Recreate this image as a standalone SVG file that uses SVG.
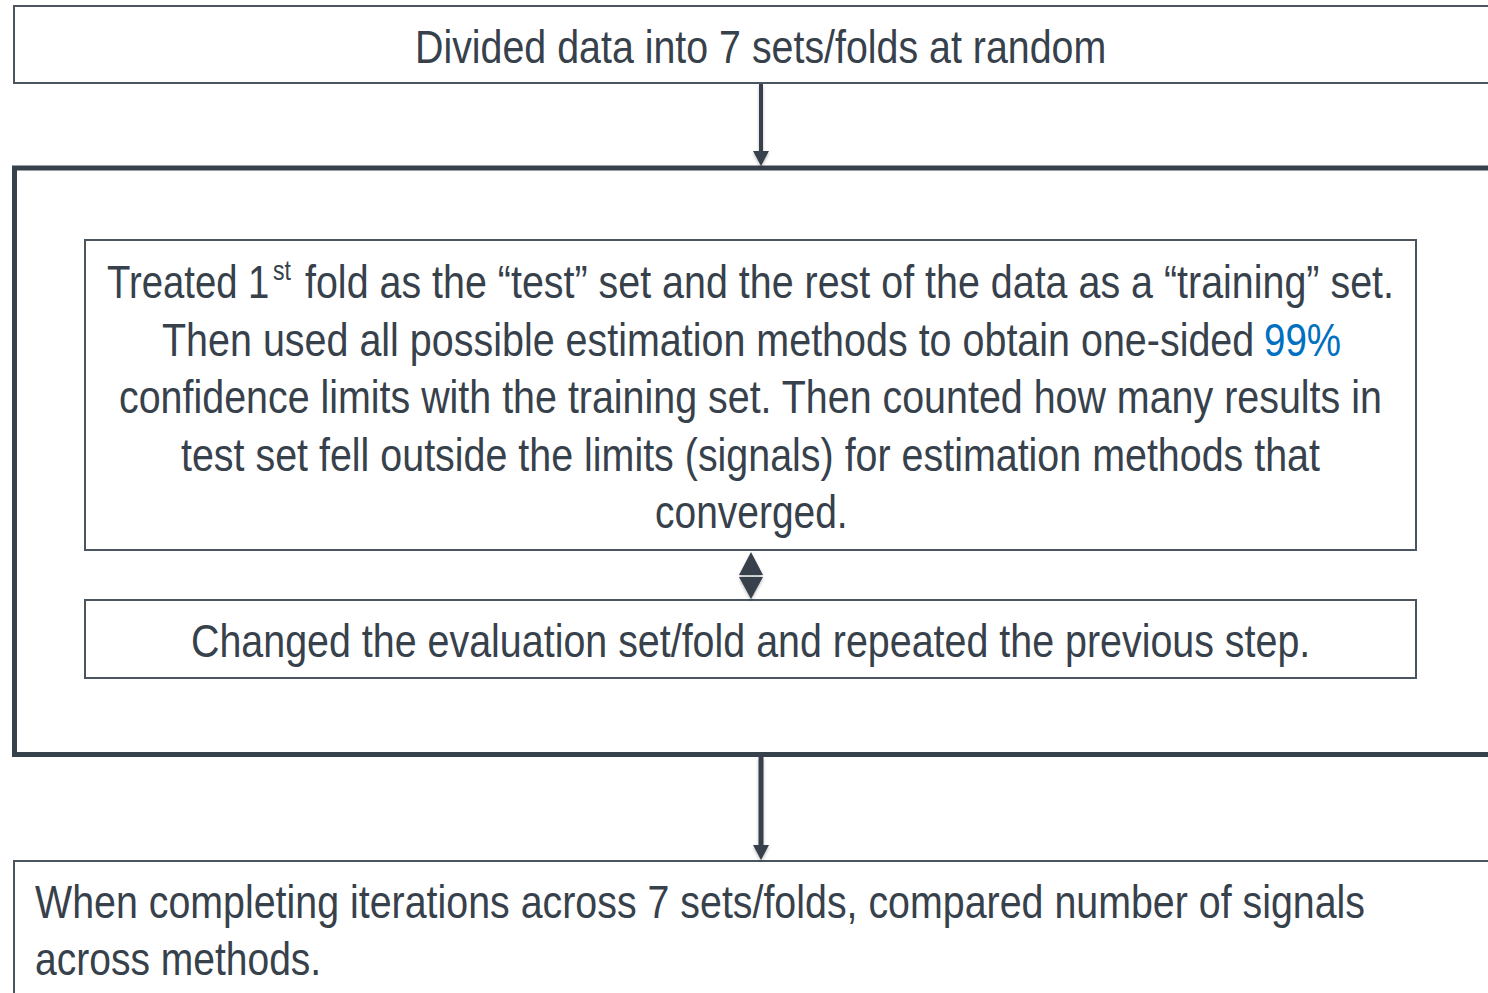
<svg xmlns="http://www.w3.org/2000/svg" width="1488" height="993" viewBox="0 0 1488 993">
  <style>
    .box { fill: #ffffff; stroke: #4a5560; stroke-width: 2; }
    .frame { fill: none; stroke: #37414b; stroke-width: 5; }
    .txt { font-family: "Liberation Sans", Arial, sans-serif; font-size: 47px; fill: #37414b; }
    .sup { font-size: 28px; }
    .hl { fill: #0070c0; }
    .conn { stroke: #37414b; fill: none; }
    .head { fill: #37414b; }
  </style>
  <defs>
    <filter id="soft" x="-50%" y="-50%" width="200%" height="200%">
      <feDropShadow dx="0" dy="2" stdDeviation="1.5" flood-color="#000" flood-opacity="0.25"/>
    </filter>
  </defs>

  <rect width="1488" height="993" fill="#ffffff"/>

  <!-- first step -->
  <g id="step-divide">
    <rect class="box" x="14" y="6" width="1500" height="77"/>
    <text class="txt" transform="translate(415,63) scale(0.82,1)" textLength="843" lengthAdjust="spacingAndGlyphs">Divided data into 7 sets/folds at random</text>
  </g>

  <!-- loop container -->
  <g id="loop-frame">
    <rect class="frame" x="14.5" y="168" width="1500" height="586.5"/>
  </g>

  <!-- labels are set in a condensed face: horizontal scale 0.82 -->
  <g id="step-test">
    <rect class="box" x="85" y="240" width="1331" height="310"/>
    <text class="txt" transform="translate(107,298) scale(0.82,1)" textLength="198" lengthAdjust="spacingAndGlyphs">Treated 1</text>
    <text class="txt sup" transform="translate(273,280) scale(0.82,1)">st</text>
    <text class="txt" transform="translate(305,298) scale(0.82,1)" textLength="1328" lengthAdjust="spacingAndGlyphs">fold as the “test” set and the rest of the data as a “training” set.</text>
    <text class="txt" transform="translate(162,356) scale(0.82,1)" textLength="1332" lengthAdjust="spacingAndGlyphs">Then used all possible estimation methods to obtain one-sided</text>
    <text class="txt hl" transform="translate(1264,356) scale(0.82,1)" textLength="94" lengthAdjust="spacingAndGlyphs">99%</text>
    <text class="txt" transform="translate(119,413) scale(0.82,1)" textLength="1540" lengthAdjust="spacingAndGlyphs">confidence limits with the training set. Then counted how many results in</text>
    <text class="txt" transform="translate(181,471) scale(0.82,1)" textLength="1389" lengthAdjust="spacingAndGlyphs">test set fell outside the limits (signals) for estimation methods that</text>
    <text class="txt" transform="translate(655,528) scale(0.82,1)" textLength="235" lengthAdjust="spacingAndGlyphs">converged.</text>
  </g>

  <g id="step-repeat">
    <rect class="box" x="85" y="600" width="1331" height="78"/>
    <text class="txt" transform="translate(191,657) scale(0.82,1)" textLength="1365" lengthAdjust="spacingAndGlyphs">Changed the evaluation set/fold and repeated the previous step.</text>
  </g>

  <g id="step-compare">
    <rect class="box" x="14" y="861" width="1500" height="150"/>
    <text class="txt" transform="translate(35,918) scale(0.82,1)" textLength="1622" lengthAdjust="spacingAndGlyphs">When completing iterations across 7 sets/folds, compared number of signals</text>
    <text class="txt" transform="translate(35,975) scale(0.82,1)" textLength="349" lengthAdjust="spacingAndGlyphs">across methods.</text>
  </g>

  <!-- connectors -->
  <g id="connectors" filter="url(#soft)">
    <line class="conn" x1="761" y1="84" x2="761" y2="152" stroke-width="4"/>
    <polygon class="head" points="753,151 769,151 761,166"/>

    <polygon class="head" points="751,552 739,575 763,575"/>
    <polygon class="head" points="739,577 763,577 751,599"/>

    <line class="conn" x1="761" y1="757" x2="761" y2="846" stroke-width="5"/>
    <polygon class="head" points="753,845 769,845 761,860"/>
  </g>
</svg>
